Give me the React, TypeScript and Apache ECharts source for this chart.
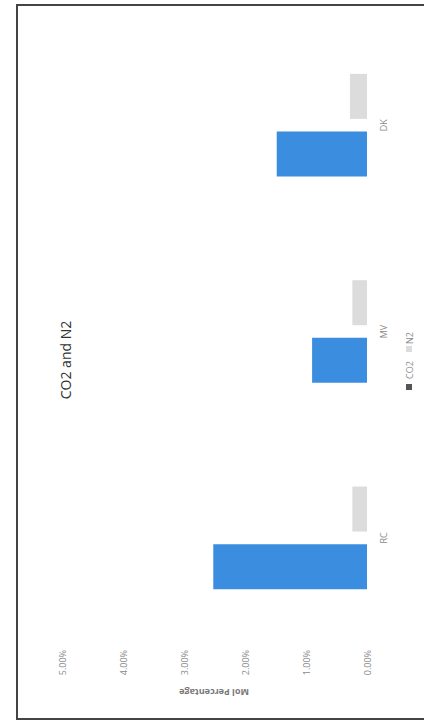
import React, { useEffect, useRef } from "react";
import * as echarts from "echarts";

const categories = ["RC", "MV", "DK"];
const co2Values = [2.52, 0.9, 1.48];
const n2Values = [0.24, 0.24, 0.28];
const valueTicks = [0, 1, 2, 3, 4, 5];
const seriesNames = ["CO2", "N2"];
const titleText = "CO2 and N2";
const axisTitle = "Mol Percentage";

export default function App() {
  const ref = useRef<HTMLDivElement>(null);
  useEffect(() => {
    if (!ref.current) return;
    const chart = echarts.init(ref.current, null, { renderer: "svg" });
    const font = "'Open Sans', 'Noto Sans', sans-serif";
    chart.setOption({
      animation: false,
      backgroundColor: "#ffffff",
      grid: { left: 62, right: 57, top: 22, bottom: 80, containLabel: false },
      xAxis: {
        type: "value",
        inverse: true,
        min: valueTicks[0],
        max: valueTicks[valueTicks.length - 1],
        interval: 1,
        axisLine: { show: false },
        axisTick: { show: false },
        splitLine: { show: false },
        axisLabel: {
          rotate: 90,
          margin: 9,
          color: "#8a8a8a",
          fontSize: 9,
          fontFamily: font,
          formatter: (v: number) => v.toFixed(2) + "%",
        },
      },
      yAxis: {
        type: "category",
        position: "right",
        data: categories,
        axisLine: { show: false },
        axisTick: { show: false },
        axisLabel: {
          rotate: 90,
          margin: 12,
          color: "#8a8a8a",
          fontSize: 9,
          fontFamily: font,
        },
      },
      series: [
        {
          name: seriesNames[1],
          type: "bar",
          data: n2Values,
          barWidth: 45,
          barGap: "28%",
          itemStyle: { color: "#dcdcdc" },
        },
        {
          name: seriesNames[0],
          type: "bar",
          data: co2Values,
          barWidth: 45,
          barGap: "28%",
          itemStyle: { color: "#3b8de0" },
        },
      ],
      graphic: [
        {
          type: "rect",
          shape: { x: 17, y: 5, width: 430, height: 714 },
          style: { fill: "none", stroke: "#444444", lineWidth: 2 },
          silent: true,
        },
        {
          type: "text",
          x: 65,
          y: 360,
          rotation: Math.PI / 2,
          style: {
            text: titleText,
            fill: "#333333",
            font: "14px " + font,
            align: "center",
            verticalAlign: "middle",
          },
        },
        {
          type: "text",
          x: 214,
          y: 692,
          rotation: Math.PI,
          style: {
            text: axisTitle,
            fill: "#777777",
            font: "bold 9px " + font,
            align: "center",
            verticalAlign: "middle",
          },
        },
        {
          type: "rect",
          shape: { x: 406, y: 384, width: 6, height: 6 },
          style: { fill: "#555555" },
        },
        {
          type: "text",
          x: 409,
          y: 370,
          rotation: Math.PI / 2,
          style: {
            text: seriesNames[0],
            fill: "#8a8a8a",
            font: "9px " + font,
            align: "center",
            verticalAlign: "middle",
          },
        },
        {
          type: "rect",
          shape: { x: 406, y: 346, width: 6, height: 6 },
          style: { fill: "#dcdcdc" },
        },
        {
          type: "text",
          x: 409,
          y: 338,
          rotation: Math.PI / 2,
          style: {
            text: seriesNames[1],
            fill: "#8a8a8a",
            font: "9px " + font,
            align: "center",
            verticalAlign: "middle",
          },
        },
      ],
    });
    return () => chart.dispose();
  }, []);
  return (
    <div
      ref={ref}
      style={{ position: "fixed", left: 0, top: 0, width: 424, height: 721 }}
    />
  );
}
